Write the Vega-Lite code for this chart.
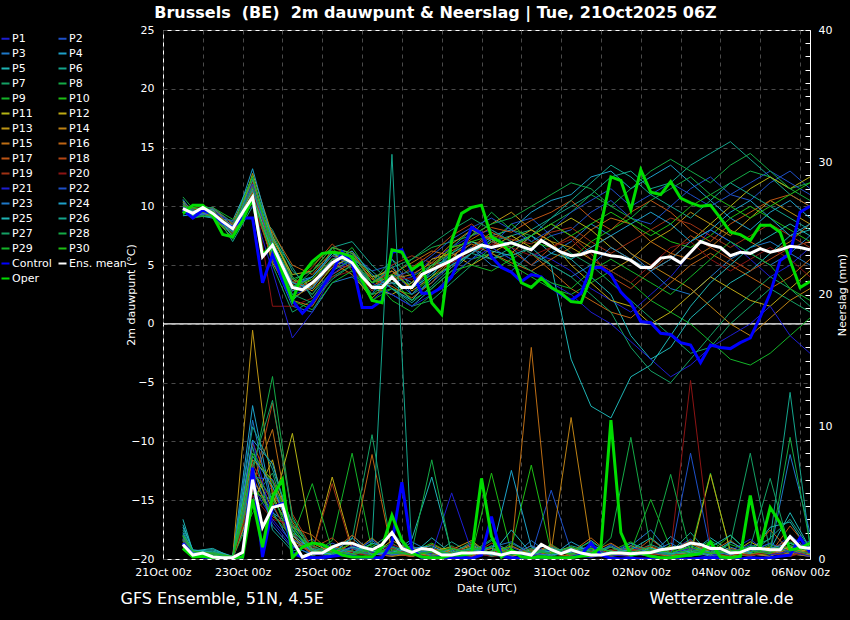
{
"$schema":"https://vega.github.io/schema/vega-lite/v6.json",
"width":647,"height":529,"autosize":"none",
"padding":{"left":163,"top":30,"right":40,"bottom":61},
"background":"black",
"config":{
 "view":{"stroke":"white","strokeWidth":1},
 "font":"DejaVu Sans",
 "axis":{"labelColor":"white","titleColor":"white","labelFont":"DejaVu Sans","titleFont":"DejaVu Sans","labelFontSize":11,"titleFontSize":11,"titleFontWeight":"normal","domain":false,"ticks":false,"gridColor":"#4a4a4a","gridDash":[4,4],"gridWidth":1}
},
"title":{"text":"Brussels\u00a0 (BE)\u00a0 2m dauwpunt & Neerslag | Tue, 21Oct2025 06Z","color":"white","fontSize":16,"fontWeight":"bold","font":"DejaVu Sans","anchor":"middle","frame":"group","dx":-51,"offset":3},
"datasets":{
"dm":[
{"t":"2025-10-21T12:00Z","P1":10.0,"P2":9.6,"P3":10.2,"P4":9.5,"P5":9.9,"P6":10.5,"P7":9.7,"P8":10.8,"P9":9.3,"P10":9.9,"P11":10.1,"P12":9.8,"P13":10.4,"P14":9.5,"P15":10.0,"P16":9.7,"P17":10.3,"P18":9.6,"P19":10.2,"P20":9.4,"P21":10.0,"P22":9.9,"P23":10.6,"P24":9.2,"P25":9.8,"P26":10.3,"P27":9.5,"P28":10.1,"P29":9.7,"P30":10.0},
{"t":"2025-10-21T18:00Z","P1":9.6,"P2":9.2,"P3":9.0,"P4":9.8,"P5":9.3,"P6":9.0,"P7":9.5,"P8":9.8,"P9":9.7,"P10":9.1,"P11":9.5,"P12":9.2,"P13":9.7,"P14":9.9,"P15":9.4,"P16":9.6,"P17":9.3,"P18":9.0,"P19":9.8,"P20":9.5,"P21":9.1,"P22":9.7,"P23":9.4,"P24":9.3,"P25":9.6,"P26":9.2,"P27":9.8,"P28":9.4,"P29":9.0,"P30":9.9},
{"t":"2025-10-22T06:00Z","P1":9.2,"P2":9.8,"P3":9.5,"P4":9.6,"P5":9.0,"P6":9.7,"P7":9.3,"P8":9.0,"P9":9.9,"P10":9.4,"P11":9.6,"P12":9.5,"P13":9.1,"P14":9.7,"P15":9.8,"P16":9.2,"P17":9.4,"P18":9.9,"P19":9.3,"P20":9.6,"P21":9.5,"P22":9.0,"P23":9.8,"P24":9.4,"P25":9.7,"P26":9.1,"P27":9.9,"P28":9.6,"P29":9.3,"P30":9.5},
{"t":"2025-10-22T18:00Z","P1":7.8,"P2":8.5,"P3":8.0,"P4":7.5,"P5":8.8,"P6":7.0,"P7":8.3,"P8":7.6,"P9":8.9,"P10":8.1,"P11":7.9,"P12":8.4,"P13":7.3,"P14":8.2,"P15":8.6,"P16":8.0,"P17":7.7,"P18":8.5,"P19":7.5,"P20":8.2,"P21":8.7,"P22":7.9,"P23":8.3,"P24":8.1,"P25":7.4,"P26":7.8,"P27":8.6,"P28":8.0,"P29":7.2,"P30":8.2},
{"t":"2025-10-23T06:00Z","P1":11.5,"P2":12.0,"P3":10.5,"P4":11.0,"P5":12.5,"P6":10.0,"P7":11.8,"P8":11.2,"P9":10.2,"P10":11.0,"P11":11.5,"P12":10.8,"P13":12.8,"P14":11.3,"P15":12.2,"P16":10.6,"P17":11.7,"P18":10.4,"P19":11.1,"P20":12.0,"P21":10.0,"P22":11.9,"P23":11.4,"P24":13.2,"P25":10.9,"P26":12.3,"P27":10.3,"P28":11.6,"P29":10.7,"P30":12.6},
{"t":"2025-10-23T18:00Z","P1":6.0,"P2":7.5,"P3":5.5,"P4":7.0,"P5":6.5,"P6":8.0,"P7":5.0,"P8":6.8,"P9":7.8,"P10":5.8,"P11":7.2,"P12":6.2,"P13":7.5,"P14":5.2,"P15":6.5,"P16":7.8,"P17":6.0,"P18":5.5,"P19":6.8,"P20":1.5,"P21":4.5,"P22":6.3,"P23":6.6,"P24":7.0,"P25":6.0,"P26":7.3,"P27":6.5,"P28":7.0,"P29":5.8,"P30":6.2},
{"t":"2025-10-24T06:00Z","P1":2.5,"P2":4.0,"P3":1.5,"P4":3.5,"P5":2.0,"P6":4.5,"P7":1.0,"P8":3.0,"P9":4.0,"P10":3.5,"P11":4.2,"P12":2.8,"P13":3.8,"P14":2.2,"P15":2.0,"P16":5.0,"P17":3.0,"P18":3.3,"P19":3.6,"P20":1.5,"P21":-1.2,"P22":3.2,"P23":2.8,"P24":3.5,"P25":3.0,"P26":4.8,"P27":2.5,"P28":3.8,"P29":2.0,"P30":3.2},
{"t":"2025-10-24T18:00Z","P1":3.0,"P2":2.5,"P3":1.0,"P4":4.0,"P5":3.5,"P6":3.0,"P7":2.0,"P8":4.5,"P9":2.5,"P10":5.0,"P11":4.5,"P12":3.8,"P13":2.8,"P14":3.2,"P15":1.5,"P16":4.2,"P17":3.5,"P18":4.8,"P19":3.0,"P20":2.2,"P21":1.0,"P22":4.0,"P23":3.5,"P24":3.0,"P25":4.0,"P26":2.2,"P27":1.8,"P28":4.5,"P29":1.2,"P30":3.8},
{"t":"2025-10-25T06:00Z","P1":5.5,"P2":4.5,"P3":3.5,"P4":6.0,"P5":5.0,"P6":6.5,"P7":4.0,"P8":6.0,"P9":5.0,"P10":6.5,"P11":6.5,"P12":5.8,"P13":4.8,"P14":5.2,"P15":4.2,"P16":6.2,"P17":5.5,"P18":6.8,"P19":5.0,"P20":4.0,"P21":4.2,"P22":5.8,"P23":5.5,"P24":5.2,"P25":6.0,"P26":4.5,"P27":3.8,"P28":6.5,"P29":3.5,"P30":5.5},
{"t":"2025-10-25T18:00Z","P1":4.8,"P2":6.0,"P3":4.0,"P4":5.5,"P5":5.5,"P6":7.0,"P7":5.0,"P8":5.0,"P9":6.5,"P10":4.5,"P11":6.0,"P12":5.5,"P13":5.8,"P14":4.2,"P15":5.2,"P16":5.8,"P17":6.2,"P18":5.2,"P19":4.8,"P20":4.5,"P21":5.5,"P22":5.0,"P23":5.8,"P24":6.2,"P25":5.2,"P26":5.5,"P27":5.0,"P28":6.0,"P29":4.5,"P30":5.5},
{"t":"2025-10-26T06:00Z","P1":2.0,"P2":4.5,"P3":2.5,"P4":3.0,"P5":3.5,"P6":5.0,"P7":2.5,"P8":3.5,"P9":4.0,"P10":2.0,"P11":4.0,"P12":3.2,"P13":3.8,"P14":2.2,"P15":3.2,"P16":3.8,"P17":3.5,"P18":3.0,"P19":2.8,"P20":3.0,"P21":3.5,"P22":3.0,"P23":3.0,"P24":4.2,"P25":3.2,"P26":4.5,"P27":3.5,"P28":3.5,"P29":2.5,"P30":3.5},
{"t":"2025-10-26T18:00Z","P1":3.5,"P2":5.0,"P3":5.5,"P4":2.5,"P5":4.5,"P6":3.5,"P7":3.0,"P8":4.0,"P9":2.0,"P10":3.0,"P11":4.5,"P12":2.5,"P13":4.8,"P14":3.8,"P15":4.2,"P16":3.2,"P17":4.5,"P18":3.5,"P19":5.0,"P20":4.0,"P21":2.5,"P22":4.0,"P23":4.0,"P24":3.0,"P25":3.5,"P26":3.0,"P27":4.8,"P28":5.5,"P29":3.8,"P30":4.2},
{"t":"2025-10-27T06:00Z","P1":4.0,"P2":2.5,"P3":3.0,"P4":1.5,"P5":3.5,"P6":2.0,"P7":1.5,"P8":5.5,"P9":1.0,"P10":2.5,"P11":3.0,"P12":3.5,"P13":2.8,"P14":4.2,"P15":5.2,"P16":2.2,"P17":3.0,"P18":4.8,"P19":5.8,"P20":3.8,"P21":1.5,"P22":4.5,"P23":2.5,"P24":2.0,"P25":3.0,"P26":1.8,"P27":5.5,"P28":4.0,"P29":2.0,"P30":3.2},
{"t":"2025-10-27T18:00Z","P1":5.5,"P2":3.5,"P3":4.5,"P4":3.0,"P5":5.0,"P6":4.0,"P7":2.0,"P8":6.5,"P9":2.5,"P10":4.0,"P11":5.0,"P12":5.5,"P13":4.0,"P14":5.2,"P15":6.2,"P16":3.5,"P17":4.8,"P18":6.0,"P19":5.2,"P20":4.5,"P21":2.5,"P22":5.8,"P23":4.5,"P24":3.8,"P25":4.2,"P26":3.2,"P27":6.8,"P28":5.0,"P29":3.0,"P30":4.8},
{"t":"2025-10-28T06:00Z","P1":6.5,"P2":5.0,"P3":6.0,"P4":4.5,"P5":5.5,"P6":6.5,"P7":3.5,"P8":7.0,"P9":4.0,"P10":5.0,"P11":6.5,"P12":6.0,"P13":5.5,"P14":6.8,"P15":5.8,"P16":5.5,"P17":6.2,"P18":7.5,"P19":4.8,"P20":5.2,"P21":4.2,"P22":7.2,"P23":5.5,"P24":5.0,"P25":6.0,"P26":4.8,"P27":8.0,"P28":6.0,"P29":4.5,"P30":6.5},
{"t":"2025-10-28T18:00Z","P1":7.5,"P2":7.0,"P3":5.5,"P4":6.0,"P5":6.5,"P6":8.0,"P7":5.0,"P8":7.5,"P9":5.5,"P10":6.0,"P11":7.0,"P12":5.0,"P13":7.5,"P14":8.0,"P15":6.8,"P16":6.5,"P17":7.2,"P18":8.5,"P19":6.5,"P20":6.0,"P21":5.5,"P22":8.2,"P23":6.5,"P24":6.0,"P25":7.0,"P26":6.0,"P27":9.0,"P28":7.5,"P29":5.0,"P30":7.0},
{"t":"2025-10-29T06:00Z","P1":8.0,"P2":6.5,"P3":7.0,"P4":7.5,"P5":5.5,"P6":7.0,"P7":6.5,"P8":9.5,"P9":6.0,"P10":7.0,"P11":6.5,"P12":6.0,"P13":8.5,"P14":7.2,"P15":6.0,"P16":7.8,"P17":8.2,"P18":7.0,"P19":7.5,"P20":6.8,"P21":6.5,"P22":9.0,"P23":5.0,"P24":7.2,"P25":6.2,"P26":5.5,"P27":8.0,"P28":8.5,"P29":4.5,"P30":7.5},
{"t":"2025-10-29T18:00Z","P1":7.0,"P2":8.5,"P3":6.5,"P4":8.0,"P5":6.0,"P6":7.5,"P7":5.5,"P8":8.0,"P9":5.0,"P10":8.5,"P11":7.5,"P12":7.0,"P13":9.5,"P14":6.0,"P15":5.2,"P16":7.0,"P17":7.8,"P18":6.2,"P19":7.2,"P20":6.5,"P21":5.5,"P22":8.0,"P23":4.5,"P24":6.8,"P25":5.8,"P26":6.5,"P27":7.0,"P28":9.0,"P29":5.5,"P30":6.5},
{"t":"2025-10-30T06:00Z","P1":6.0,"P2":9.0,"P3":5.0,"P4":9.5,"P5":7.5,"P6":8.0,"P7":6.5,"P8":7.5,"P9":4.0,"P10":7.0,"P11":6.5,"P12":8.0,"P13":8.0,"P14":7.5,"P15":4.5,"P16":6.0,"P17":8.8,"P18":5.0,"P19":6.8,"P20":5.8,"P21":4.5,"P22":7.0,"P23":6.0,"P24":7.5,"P25":6.5,"P26":7.5,"P27":6.0,"P28":10.0,"P29":4.5,"P30":7.5},
{"t":"2025-10-30T18:00Z","P1":5.5,"P2":7.5,"P3":6.0,"P4":10.5,"P5":6.0,"P6":9.0,"P7":7.5,"P8":8.5,"P9":3.0,"P10":6.5,"P11":8.0,"P12":7.0,"P13":7.0,"P14":8.5,"P15":5.5,"P16":4.5,"P17":9.5,"P18":6.5,"P19":7.8,"P20":6.5,"P21":3.5,"P22":8.0,"P23":5.0,"P24":6.5,"P25":5.0,"P26":9.0,"P27":5.0,"P28":11.0,"P29":3.5,"P30":8.5},
{"t":"2025-10-31T06:00Z","P1":4.5,"P2":8.0,"P3":7.0,"P4":11.0,"P5":5.5,"P6":10.0,"P7":6.0,"P8":9.5,"P9":2.5,"P10":5.5,"P11":9.0,"P12":5.0,"P13":6.5,"P14":7.5,"P15":6.5,"P16":3.0,"P17":10.5,"P18":7.5,"P19":8.2,"P20":7.2,"P21":2.5,"P22":9.5,"P23":4.0,"P24":5.5,"P25":-3.0,"P26":10.5,"P27":4.0,"P28":12.0,"P29":3.0,"P30":7.5},
{"t":"2025-10-31T18:00Z","P1":3.0,"P2":9.5,"P3":8.5,"P4":12.5,"P5":4.0,"P6":11.0,"P7":5.0,"P8":11.0,"P9":3.5,"P10":7.0,"P11":8.0,"P12":3.5,"P13":5.5,"P14":6.5,"P15":8.0,"P16":2.0,"P17":9.0,"P18":6.0,"P19":7.0,"P20":5.5,"P21":1.0,"P22":10.5,"P23":5.0,"P24":6.5,"P25":-7.0,"P26":12.0,"P27":2.5,"P28":11.5,"P29":4.5,"P30":8.5},
{"t":"2025-11-01T06:00Z","P1":2.0,"P2":10.5,"P3":7.5,"P4":13.0,"P5":2.5,"P6":12.5,"P7":3.5,"P8":10.0,"P9":4.5,"P10":8.0,"P11":6.5,"P12":2.0,"P13":4.5,"P14":7.5,"P15":9.0,"P16":1.0,"P17":8.0,"P18":4.0,"P19":6.0,"P20":4.5,"P21":0.0,"P22":11.5,"P23":6.5,"P24":7.5,"P25":-8.0,"P26":13.5,"P27":1.0,"P28":10.0,"P29":5.5,"P30":9.5},
{"t":"2025-11-01T18:00Z","P1":1.0,"P2":9.0,"P3":6.0,"P4":11.5,"P5":-1.0,"P6":13.0,"P7":2.0,"P8":9.0,"P9":3.5,"P10":9.0,"P11":5.5,"P12":1.5,"P13":5.5,"P14":6.0,"P15":8.5,"P16":0.5,"P17":9.5,"P18":3.0,"P19":7.0,"P20":3.5,"P21":-1.5,"P22":10.0,"P23":5.5,"P24":8.5,"P25":-4.5,"P26":12.5,"P27":-2.0,"P28":11.5,"P29":4.5,"P30":8.5},
{"t":"2025-11-02T06:00Z","P1":2.5,"P2":8.5,"P3":4.5,"P4":12.5,"P5":-3.0,"P6":11.5,"P7":0.5,"P8":10.5,"P9":2.0,"P10":8.0,"P11":4.5,"P12":0.0,"P13":7.0,"P14":5.0,"P15":7.0,"P16":2.0,"P17":10.5,"P18":4.5,"P19":8.0,"P20":5.0,"P21":-3.0,"P22":11.0,"P23":4.5,"P24":9.5,"P25":-3.5,"P26":11.0,"P27":-4.0,"P28":13.0,"P29":3.5,"P30":7.5},
{"t":"2025-11-02T18:00Z","P1":4.0,"P2":10.0,"P3":3.0,"P4":13.5,"P5":-2.0,"P6":12.0,"P7":-1.0,"P8":11.5,"P9":1.0,"P10":7.0,"P11":5.5,"P12":1.0,"P13":8.0,"P14":4.0,"P15":6.0,"P16":3.5,"P17":9.5,"P18":6.0,"P19":9.0,"P20":6.5,"P21":-4.5,"P22":12.0,"P23":5.5,"P24":8.5,"P25":-1.0,"P26":10.0,"P27":-5.0,"P28":14.0,"P29":2.5,"P30":8.5},
{"t":"2025-11-03T06:00Z","P1":6.0,"P2":11.5,"P3":2.5,"P4":12.0,"P5":0.5,"P6":13.5,"P7":-2.5,"P8":12.5,"P9":0.0,"P10":6.5,"P11":7.0,"P12":2.5,"P13":9.5,"P14":3.0,"P15":5.5,"P16":5.0,"P17":8.0,"P18":7.5,"P19":8.5,"P20":7.0,"P21":-3.5,"P22":11.0,"P23":7.0,"P24":7.0,"P25":1.5,"P26":9.0,"P27":-3.0,"P28":13.0,"P29":4.0,"P30":10.0},
{"t":"2025-11-03T18:00Z","P1":8.0,"P2":12.5,"P3":4.0,"P4":10.5,"P5":2.0,"P6":14.5,"P7":-2.0,"P8":11.0,"P9":-1.5,"P10":7.5,"P11":8.5,"P12":4.0,"P13":8.5,"P14":1.5,"P15":6.5,"P16":6.0,"P17":7.0,"P18":6.5,"P19":7.5,"P20":5.5,"P21":-2.0,"P22":10.0,"P23":8.0,"P24":8.0,"P25":3.5,"P26":10.5,"P27":-1.0,"P28":12.0,"P29":5.5,"P30":11.0},
{"t":"2025-11-04T06:00Z","P1":7.0,"P2":11.0,"P3":5.5,"P4":9.0,"P5":3.5,"P6":15.5,"P7":0.0,"P8":12.0,"P9":-3.0,"P10":9.0,"P11":10.0,"P12":3.0,"P13":7.5,"P14":0.0,"P15":8.0,"P16":5.0,"P17":8.5,"P18":5.5,"P19":6.5,"P20":4.5,"P21":-1.0,"P22":11.0,"P23":7.0,"P24":9.5,"P25":5.0,"P26":12.0,"P27":1.0,"P28":13.5,"P29":7.0,"P30":10.0},
{"t":"2025-11-04T18:00Z","P1":5.5,"P2":10.5,"P3":6.5,"P4":8.0,"P5":4.5,"P6":14.0,"P7":1.5,"P8":13.0,"P9":-3.5,"P10":10.0,"P11":11.5,"P12":2.0,"P13":9.0,"P14":-1.0,"P15":7.0,"P16":4.0,"P17":9.5,"P18":4.5,"P19":7.5,"P20":5.5,"P21":0.0,"P22":12.0,"P23":6.0,"P24":10.5,"P25":6.5,"P26":11.0,"P27":2.5,"P28":14.5,"P29":6.0,"P30":9.0},
{"t":"2025-11-05T06:00Z","P1":4.0,"P2":12.0,"P3":7.0,"P4":9.5,"P5":6.0,"P6":12.5,"P7":3.0,"P8":12.5,"P9":-2.5,"P10":9.0,"P11":12.5,"P12":1.5,"P13":10.5,"P14":0.5,"P15":6.0,"P16":3.0,"P17":10.5,"P18":5.5,"P19":8.5,"P20":6.5,"P21":1.5,"P22":13.0,"P23":5.0,"P24":9.0,"P25":7.5,"P26":10.0,"P27":4.0,"P28":13.0,"P29":5.0,"P30":10.0},
{"t":"2025-11-05T18:00Z","P1":5.0,"P2":13.0,"P3":6.0,"P4":10.5,"P5":7.5,"P6":11.0,"P7":2.0,"P8":11.5,"P9":-1.0,"P10":8.0,"P11":11.5,"P12":3.0,"P13":9.5,"P14":2.0,"P15":7.0,"P16":4.0,"P17":11.0,"P18":6.5,"P19":7.5,"P20":5.5,"P21":-1.0,"P22":12.0,"P23":6.0,"P24":7.5,"P25":8.5,"P26":9.0,"P27":3.0,"P28":11.5,"P29":3.0,"P30":11.0},
{"t":"2025-11-06T06:00Z","P1":6.5,"P2":11.5,"P3":5.0,"P4":9.0,"P5":8.0,"P6":10.0,"P7":1.0,"P8":12.0,"P9":0.5,"P10":7.0,"P11":12.5,"P12":4.5,"P13":8.5,"P14":3.0,"P15":8.5,"P16":5.5,"P17":10.0,"P18":7.0,"P19":6.5,"P20":4.0,"P21":-2.5,"P22":11.0,"P23":7.5,"P24":8.5,"P25":7.5,"P26":8.0,"P27":1.5,"P28":10.5,"P29":2.0,"P30":12.0}
],
"pm":[
{"t":"2025-10-21T12:00Z","P1":1.2,"P2":1.0,"P3":1.5,"P4":2.0,"P5":3.0,"P6":1.8,"P7":0.9,"P8":1.4,"P9":1.1,"P10":1.6,"P11":1.3,"P12":0.8,"P13":1.7,"P14":1.0,"P15":1.2,"P16":0.9,"P17":1.5,"P18":1.1,"P19":1.3,"P20":0.7,"P21":1.4,"P22":1.6,"P23":1.9,"P24":2.4,"P25":2.6,"P26":2.2,"P27":1.7,"P28":1.4,"P29":1.2,"P30":1.8},
{"t":"2025-10-21T18:00Z","P1":0.3,"P2":0.4,"P3":0.2,"P4":0.5,"P5":0.6,"P6":0.4,"P7":0.2,"P8":0.5,"P9":0.3,"P10":0.4,"P11":0.3,"P12":0.2,"P13":0.6,"P14":0.3,"P15":0.4,"P16":0.2,"P17":0.5,"P18":0.3,"P19":0.4,"P20":0.2,"P21":0.3,"P22":0.5,"P23":0.4,"P24":0.7,"P25":0.6,"P26":0.5,"P27":0.4,"P28":0.3,"P29":0.4,"P30":0.6},
{"t":"2025-10-22T06:00Z","P1":0.2,"P2":0.3,"P3":0.1,"P4":0.6,"P5":0.8,"P6":0.3,"P7":0.2,"P8":0.4,"P9":0.5,"P10":0.2,"P11":0.3,"P12":0.4,"P13":0.2,"P14":0.2,"P15":0.5,"P16":0.3,"P17":0.2,"P18":0.4,"P19":0.2,"P20":0.3,"P21":0.2,"P22":0.3,"P23":0.4,"P24":0.5,"P25":0.7,"P26":0.6,"P27":0.3,"P28":0.5,"P29":0.3,"P30":0.4},
{"t":"2025-10-22T18:00Z","P1":0.1,"P2":0,"P3":0.1,"P4":0.2,"P5":0.1,"P6":0,"P7":0.1,"P8":0.2,"P9":0.1,"P10":0,"P11":0.2,"P12":0.1,"P13":0.1,"P14":0,"P15":0.2,"P16":0.1,"P17":0,"P18":0.1,"P19":0.1,"P20":0,"P21":0.1,"P22":0.2,"P23":0.1,"P24":0.1,"P25":0.2,"P26":0.1,"P27":0,"P28":0.1,"P29":0.1,"P30":0.2},
{"t":"2025-10-23T06:00Z","P1":5.5,"P2":4.0,"P3":7.0,"P4":11.6,"P5":6.0,"P6":8.5,"P7":4.5,"P8":6.5,"P9":3.5,"P10":5.0,"P11":6.8,"P12":4.2,"P13":17.3,"P14":7.5,"P15":5.8,"P16":6.2,"P17":8.8,"P18":5.2,"P19":7.2,"P20":4.8,"P21":9.0,"P22":6.2,"P23":10.5,"P24":9.0,"P25":7.8,"P26":10.0,"P27":7.0,"P28":6.6,"P29":5.6,"P30":8.0},
{"t":"2025-10-23T18:00Z","P1":3.0,"P2":5.5,"P3":2.5,"P4":4.0,"P5":3.5,"P6":2.2,"P7":6.5,"P8":13.8,"P9":5.0,"P10":4.5,"P11":3.8,"P12":7.5,"P13":4.8,"P14":6.0,"P15":9.8,"P16":3.2,"P17":5.2,"P18":11.8,"P19":4.2,"P20":3.0,"P21":2.8,"P22":6.0,"P23":3.6,"P24":7.2,"P25":5.5,"P26":6.8,"P27":12.0,"P28":4.6,"P29":3.4,"P30":5.8},
{"t":"2025-10-24T06:00Z","P1":1.2,"P2":2.0,"P3":0.8,"P4":1.5,"P5":2.5,"P6":0.6,"P7":1.8,"P8":3.0,"P9":1.0,"P10":2.2,"P11":9.5,"P12":1.4,"P13":1.8,"P14":2.8,"P15":1.6,"P16":2.4,"P17":2.0,"P18":3.4,"P19":1.2,"P20":2.6,"P21":0.9,"P22":1.5,"P23":1.0,"P24":2.2,"P25":1.8,"P26":2.6,"P27":3.2,"P28":2.0,"P29":1.6,"P30":2.4},
{"t":"2025-10-24T18:00Z","P1":0.5,"P2":0.3,"P3":1.5,"P4":0.6,"P5":0.4,"P6":1.0,"P7":0.2,"P8":0.8,"P9":0.3,"P10":0.6,"P11":1.2,"P12":0.5,"P13":0.3,"P14":0.7,"P15":0.4,"P16":1.8,"P17":0.3,"P18":0.8,"P19":0.5,"P20":0.9,"P21":0.4,"P22":0.6,"P23":0.3,"P24":0.5,"P25":0.7,"P26":0.8,"P27":0.4,"P28":1.0,"P29":5.7,"P30":0.6},
{"t":"2025-10-25T06:00Z","P1":0.8,"P2":1.2,"P3":0.3,"P4":0.2,"P5":0.6,"P6":0.4,"P7":0.9,"P8":0.3,"P9":1.4,"P10":0.2,"P11":0.5,"P12":6.2,"P13":0.7,"P14":0.3,"P15":1.0,"P16":0.4,"P17":0.6,"P18":1.6,"P19":5.7,"P20":0.3,"P21":0.2,"P22":0.4,"P23":0.9,"P24":0.4,"P25":0.3,"P26":0.5,"P27":0.8,"P28":0.4,"P29":0.6,"P30":0.5},
{"t":"2025-10-25T18:00Z","P1":0.3,"P2":0.6,"P3":0.9,"P4":1.8,"P5":0.2,"P6":0.3,"P7":1.5,"P8":0.6,"P9":8.0,"P10":0.4,"P11":0.3,"P12":0.8,"P13":0.4,"P14":1.2,"P15":0.5,"P16":0.6,"P17":1.8,"P18":0.3,"P19":0.6,"P20":0.5,"P21":1.0,"P22":0.8,"P23":0.4,"P24":1.6,"P25":0.9,"P26":0.4,"P27":0.6,"P28":0.3,"P29":0.4,"P30":1.2},
{"t":"2025-10-26T06:00Z","P1":1.5,"P2":0.2,"P3":0.4,"P4":0.5,"P5":1.2,"P6":0.9,"P7":9.4,"P8":0.4,"P9":0.6,"P10":1.1,"P11":0.8,"P12":0.3,"P13":1.6,"P14":0.5,"P15":0.2,"P16":7.9,"P17":0.4,"P18":0.6,"P19":0.3,"P20":0.2,"P21":0.5,"P22":0.3,"P23":1.4,"P24":0.3,"P25":0.6,"P26":1.2,"P27":0.3,"P28":0.7,"P29":0.8,"P30":0.4},
{"t":"2025-10-26T18:00Z","P1":0.5,"P2":1.0,"P3":0.2,"P4":0.3,"P5":0.8,"P6":2.0,"P7":0.6,"P8":1.2,"P9":0.2,"P10":0.3,"P11":0.4,"P12":1.4,"P13":0.2,"P14":0.3,"P15":0.9,"P16":0.5,"P17":0.2,"P18":0.4,"P19":0.8,"P20":1.1,"P21":0.3,"P22":0.6,"P23":0.3,"P24":0.5,"P25":0.4,"P26":30.6,"P27":0.9,"P28":0.4,"P29":0.5,"P30":0.7},
{"t":"2025-10-27T06:00Z","P1":0.2,"P2":0.4,"P3":1.3,"P4":0.9,"P5":0.3,"P6":0.5,"P7":0.2,"P8":0.3,"P9":0.8,"P10":0.5,"P11":0.2,"P12":0.6,"P13":0.4,"P14":0.8,"P15":0.3,"P16":0.2,"P17":0.9,"P18":0.2,"P19":0.4,"P20":0.6,"P21":0.7,"P22":1.0,"P23":0.5,"P24":0.8,"P25":1.5,"P26":0.6,"P27":0.5,"P28":0.6,"P29":0.3,"P30":0.3},
{"t":"2025-10-27T18:00Z","P1":0.8,"P2":0.1,"P3":0.5,"P4":0.2,"P5":1.6,"P6":0.2,"P7":0.5,"P8":0.9,"P9":0.3,"P10":1.2,"P11":0.6,"P12":0.2,"P13":0.3,"P14":0.4,"P15":1.1,"P16":0.7,"P17":0.5,"P18":0.8,"P19":0.2,"P20":0.3,"P21":0.4,"P22":0.2,"P23":0.6,"P24":1.0,"P25":6.2,"P26":0.3,"P27":0.7,"P28":7.5,"P29":0.6,"P30":0.5},
{"t":"2025-10-28T06:00Z","P1":0.3,"P2":0.8,"P3":0.2,"P4":0.6,"P5":0.4,"P6":1.3,"P7":0.3,"P8":0.2,"P9":1.0,"P10":0.4,"P11":0.9,"P12":0.5,"P13":0.7,"P14":0.2,"P15":0.4,"P16":0.3,"P17":0.2,"P18":0.4,"P19":0.5,"P20":0.9,"P21":5.0,"P22":0.4,"P23":0.3,"P24":0.3,"P25":0.5,"P26":0.8,"P27":0.4,"P28":0.3,"P29":0.4,"P30":0.8},
{"t":"2025-10-28T18:00Z","P1":0.1,"P2":0.5,"P3":0.7,"P4":1.1,"P5":0.2,"P6":0.4,"P7":0.8,"P8":0.5,"P9":0.2,"P10":0.3,"P11":0.2,"P12":1.0,"P13":1.4,"P14":0.6,"P15":0.3,"P16":0.9,"P17":1.2,"P18":0.2,"P19":0.3,"P20":0.5,"P21":0.6,"P22":0.8,"P23":0.4,"P24":0.5,"P25":0.8,"P26":0.4,"P27":1.3,"P28":0.9,"P29":0.7,"P30":0.4},
{"t":"2025-10-29T06:00Z","P1":0.6,"P2":0.2,"P3":0.3,"P4":0.3,"P5":1.0,"P6":0.8,"P7":0.2,"P8":1.5,"P9":0.4,"P10":6.5,"P11":0.5,"P12":0.3,"P13":0.2,"P14":0.4,"P15":0.8,"P16":0.2,"P17":0.4,"P18":0.6,"P19":1.2,"P20":0.2,"P21":0.3,"P22":0.5,"P23":0.9,"P24":0.4,"P25":0.3,"P26":1.4,"P27":0.2,"P28":0.5,"P29":0.9,"P30":0.6},
{"t":"2025-10-29T18:00Z","P1":0.2,"P2":0.9,"P3":0.1,"P4":0.4,"P5":0.6,"P6":0.2,"P7":1.2,"P8":0.4,"P9":0.7,"P10":0.5,"P11":0.3,"P12":0.2,"P13":0.6,"P14":1.0,"P15":0.5,"P16":0.4,"P17":0.3,"P18":0.3,"P19":0.6,"P20":0.4,"P21":0.5,"P22":0.3,"P23":1.3,"P24":6.7,"P25":2.2,"P26":0.5,"P27":0.6,"P28":0.3,"P29":0.3,"P30":0.9},
{"t":"2025-10-30T06:00Z","P1":0.4,"P2":0.3,"P3":1.4,"P4":0.7,"P5":0.2,"P6":0.5,"P7":0.4,"P8":0.2,"P9":0.3,"P10":0.2,"P11":1.0,"P12":0.6,"P13":0.3,"P14":0.3,"P15":16.0,"P16":0.6,"P17":0.7,"P18":0.5,"P19":0.3,"P20":0.8,"P21":0.2,"P22":1.0,"P23":0.4,"P24":0.9,"P25":0.4,"P26":0.3,"P27":0.4,"P28":0.8,"P29":0.6,"P30":7.1},
{"t":"2025-10-30T18:00Z","P1":1.0,"P2":5.2,"P3":0.3,"P4":0.2,"P5":0.8,"P6":0.3,"P7":0.2,"P8":0.7,"P9":1.1,"P10":0.4,"P11":0.4,"P12":0.8,"P13":0.5,"P14":0.6,"P15":0.6,"P16":0.3,"P17":0.4,"P18":1.0,"P19":0.4,"P20":0.3,"P21":0.7,"P22":0.4,"P23":0.3,"P24":0.3,"P25":0.6,"P26":0.9,"P27":0.8,"P28":0.4,"P29":0.4,"P30":0.5},
{"t":"2025-10-31T06:00Z","P1":0.3,"P2":0.6,"P3":0.8,"P4":1.3,"P5":0.4,"P6":1.0,"P7":0.6,"P8":0.3,"P9":0.2,"P10":0.9,"P11":0.2,"P12":0.4,"P13":0.9,"P14":10.7,"P15":0.3,"P16":0.5,"P17":0.2,"P18":0.3,"P19":0.8,"P20":0.5,"P21":0.4,"P22":0.6,"P23":0.6,"P24":0.5,"P25":0.8,"P26":0.4,"P27":0.3,"P28":0.6,"P29":0.9,"P30":0.4},
{"t":"2025-10-31T18:00Z","P1":0.1,"P2":0.2,"P3":0.2,"P4":0.5,"P5":1.4,"P6":0.6,"P7":0.3,"P8":0.2,"P9":0.5,"P10":0.2,"P11":0.8,"P12":0.3,"P13":0.3,"P14":0.8,"P15":0.5,"P16":1.6,"P17":0.6,"P18":0.2,"P19":0.3,"P20":0.2,"P21":0.9,"P22":0.3,"P23":0.4,"P24":1.0,"P25":0.3,"P26":0.7,"P27":0.5,"P28":1.3,"P29":0.5,"P30":0.8},
{"t":"2025-11-01T06:00Z","P1":0.5,"P2":1.1,"P3":0.4,"P4":0.2,"P5":0.3,"P6":0.2,"P7":0.9,"P8":1.6,"P9":0.3,"P10":0.6,"P11":0.3,"P12":0.7,"P13":0.2,"P14":0.4,"P15":1.2,"P16":0.3,"P17":0.9,"P18":0.5,"P19":0.2,"P20":0.7,"P21":0.3,"P22":0.4,"P23":1.0,"P24":0.6,"P25":0.5,"P26":0.3,"P27":0.9,"P28":0.4,"P29":0.3,"P30":0.6},
{"t":"2025-11-01T18:00Z","P1":1.2,"P2":0.4,"P3":1.0,"P4":0.6,"P5":0.5,"P6":0.4,"P7":0.2,"P8":9.2,"P9":0.8,"P10":1.3,"P11":0.5,"P12":0.2,"P13":1.0,"P14":0.2,"P15":0.3,"P16":0.7,"P17":0.3,"P18":0.8,"P19":0.6,"P20":0.4,"P21":0.2,"P22":0.9,"P23":0.3,"P24":0.3,"P25":0.7,"P26":1.2,"P27":0.4,"P28":0.5,"P29":0.6,"P30":0.3},
{"t":"2025-11-02T06:00Z","P1":0.3,"P2":0.2,"P3":2.2,"P4":0.3,"P5":0.9,"P6":1.1,"P7":0.5,"P8":0.8,"P9":0.4,"P10":0.3,"P11":0.2,"P12":0.9,"P13":0.5,"P14":0.7,"P15":0.6,"P16":0.4,"P17":1.5,"P18":0.3,"P19":1.0,"P20":0.3,"P21":0.6,"P22":0.5,"P23":0.5,"P24":0.8,"P25":1.6,"P26":0.6,"P27":0.6,"P28":0.9,"P29":4.5,"P30":0.7},
{"t":"2025-11-02T18:00Z","P1":0.8,"P2":0.6,"P3":0.4,"P4":1.7,"P5":0.2,"P6":0.5,"P7":0.3,"P8":0.3,"P9":1.0,"P10":0.7,"P11":1.0,"P12":0.4,"P13":0.3,"P14":0.3,"P15":0.2,"P16":0.2,"P17":0.4,"P18":0.6,"P19":0.4,"P20":0.6,"P21":0.4,"P22":0.3,"P23":1.2,"P24":0.4,"P25":0.4,"P26":0.4,"P27":0.3,"P28":6.4,"P29":0.8,"P30":0.5},
{"t":"2025-11-03T06:00Z","P1":0.4,"P2":1.5,"P3":0.2,"P4":0.6,"P5":0.4,"P6":2.0,"P7":0.8,"P8":0.5,"P9":0.6,"P10":0.2,"P11":0.4,"P12":0.3,"P13":1.2,"P14":0.5,"P15":0.8,"P16":0.6,"P17":0.2,"P18":1.4,"P19":0.3,"P20":13.5,"P21":0.8,"P22":8.0,"P23":0.4,"P24":0.6,"P25":0.5,"P26":1.0,"P27":0.7,"P28":0.5,"P29":0.4,"P30":0.9},
{"t":"2025-11-03T18:00Z","P1":0.1,"P2":0.3,"P3":0.9,"P4":0.2,"P5":1.6,"P6":0.3,"P7":0.4,"P8":1.4,"P9":6.5,"P10":0.5,"P11":0.7,"P12":6.4,"P13":0.4,"P14":1.1,"P15":0.5,"P16":0.3,"P17":0.8,"P18":0.3,"P19":0.5,"P20":0.9,"P21":0.3,"P22":0.7,"P23":0.6,"P24":0.3,"P25":0.9,"P26":0.5,"P27":0.4,"P28":0.8,"P29":0.5,"P30":0.4},
{"t":"2025-11-04T06:00Z","P1":0.6,"P2":0.1,"P3":0.3,"P4":0.9,"P5":0.6,"P6":0.6,"P7":1.2,"P8":0.4,"P9":0.5,"P10":1.8,"P11":0.3,"P12":0.6,"P13":0.2,"P14":0.3,"P15":1.4,"P16":0.8,"P17":0.3,"P18":0.5,"P19":0.2,"P20":0.4,"P21":0.5,"P22":0.4,"P23":0.3,"P24":1.3,"P25":1.8,"P26":0.7,"P27":0.5,"P28":0.4,"P29":1.1,"P30":0.6},
{"t":"2025-11-04T18:00Z","P1":1.5,"P2":0.7,"P3":0.5,"P4":0.4,"P5":0.2,"P6":0.9,"P7":8.0,"P8":0.2,"P9":0.3,"P10":0.4,"P11":1.3,"P12":0.3,"P13":0.6,"P14":0.4,"P15":0.3,"P16":0.5,"P17":0.6,"P18":0.2,"P19":0.9,"P20":0.3,"P21":1.1,"P22":0.6,"P23":0.8,"P24":0.5,"P25":0.4,"P26":0.4,"P27":0.9,"P28":1.0,"P29":0.6,"P30":0.8},
{"t":"2025-11-05T06:00Z","P1":0.3,"P2":0.5,"P3":1.2,"P4":0.2,"P5":0.7,"P6":1.5,"P7":0.5,"P8":0.9,"P9":1.1,"P10":0.6,"P11":0.5,"P12":0.4,"P13":0.9,"P14":0.2,"P15":0.6,"P16":2.2,"P17":0.4,"P18":0.7,"P19":0.4,"P20":0.5,"P21":0.3,"P22":1.2,"P23":0.5,"P24":0.8,"P25":2.4,"P26":1.6,"P27":6.1,"P28":0.7,"P29":0.4,"P30":0.5},
{"t":"2025-11-05T18:00Z","P1":0.9,"P2":1.8,"P3":0.4,"P4":1.0,"P5":3.5,"P6":12.6,"P7":0.3,"P8":0.6,"P9":0.4,"P10":1.2,"P11":0.2,"P12":0.9,"P13":0.3,"P14":0.8,"P15":0.4,"P16":0.6,"P17":2.5,"P18":1.5,"P19":0.3,"P20":0.2,"P21":0.6,"P22":0.5,"P23":7.9,"P24":1.2,"P25":2.8,"P26":3.0,"P27":0.7,"P28":9.2,"P29":1.3,"P30":1.0},
{"t":"2025-11-06T06:00Z","P1":0.4,"P2":0.6,"P3":0.2,"P4":0.5,"P5":0.8,"P6":1.0,"P7":0.6,"P8":0.3,"P9":0.9,"P10":0.3,"P11":0.8,"P12":0.5,"P13":1.1,"P14":0.4,"P15":0.2,"P16":0.3,"P17":0.7,"P18":0.4,"P19":0.6,"P20":0.6,"P21":0.2,"P22":1.4,"P23":2.0,"P24":0.6,"P25":0.5,"P26":0.8,"P27":0.4,"P28":1.2,"P29":0.5,"P30":0.7}
],
"dc":[
{"t":"2025-10-21T12:00Z","Control":9.7,"Mean":9.8,"Oper":9.4},
{"t":"2025-10-21T18:00Z","Control":9.0,"Mean":9.4,"Oper":10.1},
{"t":"2025-10-22T00:00Z","Control":9.7,"Mean":9.9,"Oper":10.1},
{"t":"2025-10-22T06:00Z","Control":9.3,"Mean":9.4,"Oper":9.2},
{"t":"2025-10-22T12:00Z","Control":8.6,"Mean":8.7,"Oper":7.6},
{"t":"2025-10-22T18:00Z","Control":8.2,"Mean":8.1,"Oper":7.4},
{"t":"2025-10-23T00:00Z","Control":9.0,"Mean":9.5,"Oper":8.8},
{"t":"2025-10-23T06:00Z","Control":9.0,"Mean":10.8,"Oper":10.7},
{"t":"2025-10-23T12:00Z","Control":3.5,"Mean":5.7,"Oper":5.9},
{"t":"2025-10-23T18:00Z","Control":5.9,"Mean":6.7,"Oper":6.7},
{"t":"2025-10-24T00:00Z","Control":3.7,"Mean":4.9,"Oper":4.3},
{"t":"2025-10-24T06:00Z","Control":2.0,"Mean":3.1,"Oper":2.0},
{"t":"2025-10-24T12:00Z","Control":0.9,"Mean":2.9,"Oper":4.2},
{"t":"2025-10-24T18:00Z","Control":1.8,"Mean":3.5,"Oper":5.3},
{"t":"2025-10-25T00:00Z","Control":3.1,"Mean":4.3,"Oper":6.0},
{"t":"2025-10-25T06:00Z","Control":4.4,"Mean":5.2,"Oper":6.1},
{"t":"2025-10-25T12:00Z","Control":6.1,"Mean":5.7,"Oper":6.0},
{"t":"2025-10-25T18:00Z","Control":5.2,"Mean":5.2,"Oper":5.7},
{"t":"2025-10-26T00:00Z","Control":1.4,"Mean":4.0,"Oper":3.7},
{"t":"2025-10-26T06:00Z","Control":1.4,"Mean":3.1,"Oper":2.0},
{"t":"2025-10-26T12:00Z","Control":2.0,"Mean":3.1,"Oper":1.8},
{"t":"2025-10-26T18:00Z","Control":6.1,"Mean":4.0,"Oper":6.3},
{"t":"2025-10-27T00:00Z","Control":6.3,"Mean":3.1,"Oper":6.1},
{"t":"2025-10-27T06:00Z","Control":4.4,"Mean":3.1,"Oper":4.6},
{"t":"2025-10-27T12:00Z","Control":2.6,"Mean":4.2,"Oper":5.2},
{"t":"2025-10-27T18:00Z","Control":2.6,"Mean":4.6,"Oper":1.8},
{"t":"2025-10-28T00:00Z","Control":3.1,"Mean":5.0,"Oper":0.8},
{"t":"2025-10-28T06:00Z","Control":4.0,"Mean":5.4,"Oper":7.1},
{"t":"2025-10-28T12:00Z","Control":6.0,"Mean":5.9,"Oper":9.4},
{"t":"2025-10-28T18:00Z","Control":8.2,"Mean":6.3,"Oper":9.9},
{"t":"2025-10-29T00:00Z","Control":7.7,"Mean":6.7,"Oper":10.1},
{"t":"2025-10-29T06:00Z","Control":5.7,"Mean":6.5,"Oper":7.4},
{"t":"2025-10-29T12:00Z","Control":4.8,"Mean":6.7,"Oper":6.9},
{"t":"2025-10-29T18:00Z","Control":4.4,"Mean":6.9,"Oper":6.0},
{"t":"2025-10-30T00:00Z","Control":3.6,"Mean":6.6,"Oper":3.5},
{"t":"2025-10-30T06:00Z","Control":4.2,"Mean":6.3,"Oper":3.1},
{"t":"2025-10-30T12:00Z","Control":4.0,"Mean":7.1,"Oper":3.9},
{"t":"2025-10-30T18:00Z","Control":3.1,"Mean":6.6,"Oper":3.1},
{"t":"2025-10-31T00:00Z","Control":2.5,"Mean":6.1,"Oper":2.6},
{"t":"2025-10-31T06:00Z","Control":2.0,"Mean":5.8,"Oper":1.9},
{"t":"2025-10-31T12:00Z","Control":2.6,"Mean":5.9,"Oper":1.8},
{"t":"2025-10-31T18:00Z","Control":4.8,"Mean":6.2,"Oper":4.0},
{"t":"2025-11-01T00:00Z","Control":4.8,"Mean":6.0,"Oper":8.4},
{"t":"2025-11-01T06:00Z","Control":4.2,"Mean":5.8,"Oper":12.5},
{"t":"2025-11-01T12:00Z","Control":2.7,"Mean":5.7,"Oper":12.2},
{"t":"2025-11-01T18:00Z","Control":1.8,"Mean":5.4,"Oper":9.7},
{"t":"2025-11-02T00:00Z","Control":0.2,"Mean":4.8,"Oper":13.1},
{"t":"2025-11-02T06:00Z","Control":0.1,"Mean":4.8,"Oper":11.2},
{"t":"2025-11-02T12:00Z","Control":-0.8,"Mean":5.6,"Oper":11.0},
{"t":"2025-11-02T18:00Z","Control":-0.9,"Mean":5.7,"Oper":12.1},
{"t":"2025-11-03T00:00Z","Control":-1.6,"Mean":5.2,"Oper":10.7},
{"t":"2025-11-03T06:00Z","Control":-1.8,"Mean":6.1,"Oper":10.3},
{"t":"2025-11-03T12:00Z","Control":-3.3,"Mean":7.0,"Oper":10.0},
{"t":"2025-11-03T18:00Z","Control":-1.8,"Mean":6.7,"Oper":10.1},
{"t":"2025-11-04T00:00Z","Control":-2.0,"Mean":6.5,"Oper":9.0},
{"t":"2025-11-04T06:00Z","Control":-2.1,"Mean":5.8,"Oper":7.8},
{"t":"2025-11-04T12:00Z","Control":-1.6,"Mean":6.1,"Oper":7.6},
{"t":"2025-11-04T18:00Z","Control":-1.2,"Mean":6.0,"Oper":7.1},
{"t":"2025-11-05T00:00Z","Control":0.6,"Mean":6.4,"Oper":8.4},
{"t":"2025-11-05T06:00Z","Control":2.6,"Mean":6.1,"Oper":8.4},
{"t":"2025-11-05T12:00Z","Control":5.4,"Mean":6.3,"Oper":7.8},
{"t":"2025-11-05T18:00Z","Control":6.0,"Mean":6.6,"Oper":5.4},
{"t":"2025-11-06T00:00Z","Control":9.5,"Mean":6.5,"Oper":3.1},
{"t":"2025-11-06T06:00Z","Control":10.0,"Mean":6.3,"Oper":3.6}
],
"pc":[
{"t":"2025-10-21T12:00Z","Control":1.2,"Mean":1.1,"Oper":0.8},
{"t":"2025-10-21T18:00Z","Control":0.3,"Mean":0.3,"Oper":0.15},
{"t":"2025-10-22T00:00Z","Control":0.15,"Mean":0.45,"Oper":0.2},
{"t":"2025-10-22T06:00Z","Control":0.1,"Mean":0.15,"Oper":0.1},
{"t":"2025-10-22T12:00Z","Control":0.05,"Mean":0.1,"Oper":0.05},
{"t":"2025-10-22T18:00Z","Control":0.05,"Mean":0.1,"Oper":0.1},
{"t":"2025-10-23T00:00Z","Control":0.15,"Mean":0.5,"Oper":0.15},
{"t":"2025-10-23T06:00Z","Control":6.9,"Mean":6.0,"Oper":4.5},
{"t":"2025-10-23T12:00Z","Control":0.15,"Mean":2.4,"Oper":0.9},
{"t":"2025-10-23T18:00Z","Control":3.9,"Mean":3.9,"Oper":4.7},
{"t":"2025-10-24T00:00Z","Control":4.2,"Mean":4.1,"Oper":6.0},
{"t":"2025-10-24T06:00Z","Control":0.45,"Mean":1.4,"Oper":0.1},
{"t":"2025-10-24T12:00Z","Control":0.15,"Mean":0.15,"Oper":0.9},
{"t":"2025-10-24T18:00Z","Control":0.1,"Mean":0.45,"Oper":1.2},
{"t":"2025-10-25T00:00Z","Control":0.1,"Mean":0.45,"Oper":1.1},
{"t":"2025-10-25T06:00Z","Control":0.2,"Mean":0.9,"Oper":0.7},
{"t":"2025-10-25T12:00Z","Control":0.3,"Mean":1.2,"Oper":0.3},
{"t":"2025-10-25T18:00Z","Control":0.2,"Mean":1.2,"Oper":0.15},
{"t":"2025-10-26T00:00Z","Control":0.1,"Mean":0.9,"Oper":0.15},
{"t":"2025-10-26T06:00Z","Control":0.1,"Mean":0.7,"Oper":0.15},
{"t":"2025-10-26T12:00Z","Control":0.1,"Mean":1.1,"Oper":0.9},
{"t":"2025-10-26T18:00Z","Control":1.2,"Mean":2.0,"Oper":3.3},
{"t":"2025-10-27T00:00Z","Control":5.8,"Mean":0.8,"Oper":1.4},
{"t":"2025-10-27T06:00Z","Control":0.7,"Mean":0.5,"Oper":0.45},
{"t":"2025-10-27T12:00Z","Control":0.1,"Mean":0.8,"Oper":0.15},
{"t":"2025-10-27T18:00Z","Control":0.05,"Mean":0.7,"Oper":0.1},
{"t":"2025-10-28T00:00Z","Control":0.05,"Mean":0.3,"Oper":0.1},
{"t":"2025-10-28T06:00Z","Control":0.1,"Mean":0.3,"Oper":0.3},
{"t":"2025-10-28T12:00Z","Control":0.1,"Mean":0.45,"Oper":0.3},
{"t":"2025-10-28T18:00Z","Control":0.05,"Mean":0.45,"Oper":0.4},
{"t":"2025-10-29T00:00Z","Control":0.3,"Mean":0.5,"Oper":6.1},
{"t":"2025-10-29T06:00Z","Control":3.2,"Mean":0.45,"Oper":1.7},
{"t":"2025-10-29T12:00Z","Control":0.2,"Mean":0.3,"Oper":0.15},
{"t":"2025-10-29T18:00Z","Control":0.1,"Mean":0.5,"Oper":0.7},
{"t":"2025-10-30T00:00Z","Control":0.05,"Mean":0.45,"Oper":0.15},
{"t":"2025-10-30T06:00Z","Control":0.05,"Mean":0.3,"Oper":0.1},
{"t":"2025-10-30T12:00Z","Control":0.1,"Mean":1.1,"Oper":0.15},
{"t":"2025-10-30T18:00Z","Control":0.05,"Mean":0.7,"Oper":0.1},
{"t":"2025-10-31T00:00Z","Control":0.05,"Mean":0.4,"Oper":0.1},
{"t":"2025-10-31T06:00Z","Control":0.1,"Mean":0.7,"Oper":0.1},
{"t":"2025-10-31T12:00Z","Control":0.3,"Mean":0.45,"Oper":0.2},
{"t":"2025-10-31T18:00Z","Control":1.2,"Mean":0.3,"Oper":0.3},
{"t":"2025-11-01T00:00Z","Control":0.3,"Mean":0.3,"Oper":0.9},
{"t":"2025-11-01T06:00Z","Control":0.05,"Mean":0.45,"Oper":10.5},
{"t":"2025-11-01T12:00Z","Control":0,"Mean":0.45,"Oper":2.0},
{"t":"2025-11-01T18:00Z","Control":0.05,"Mean":0.4,"Oper":0.3},
{"t":"2025-11-02T00:00Z","Control":0,"Mean":0.45,"Oper":0.45},
{"t":"2025-11-02T06:00Z","Control":0,"Mean":0.5,"Oper":0.2},
{"t":"2025-11-02T12:00Z","Control":0.05,"Mean":0.7,"Oper":0.1},
{"t":"2025-11-02T18:00Z","Control":0.1,"Mean":0.8,"Oper":0.1},
{"t":"2025-11-03T00:00Z","Control":0,"Mean":0.9,"Oper":0.2},
{"t":"2025-11-03T06:00Z","Control":0,"Mean":1.2,"Oper":0.3},
{"t":"2025-11-03T12:00Z","Control":0.05,"Mean":1.1,"Oper":0.4},
{"t":"2025-11-03T18:00Z","Control":0.1,"Mean":0.8,"Oper":1.3},
{"t":"2025-11-04T00:00Z","Control":0.05,"Mean":0.8,"Oper":0.15},
{"t":"2025-11-04T06:00Z","Control":0,"Mean":0.45,"Oper":0.1},
{"t":"2025-11-04T12:00Z","Control":0,"Mean":0.5,"Oper":0.2},
{"t":"2025-11-04T18:00Z","Control":0.1,"Mean":0.8,"Oper":4.8},
{"t":"2025-11-05T00:00Z","Control":0.05,"Mean":0.8,"Oper":0.9},
{"t":"2025-11-05T06:00Z","Control":0.1,"Mean":0.7,"Oper":3.9},
{"t":"2025-11-05T12:00Z","Control":0.2,"Mean":0.7,"Oper":2.7},
{"t":"2025-11-05T18:00Z","Control":0.3,"Mean":1.7,"Oper":0.7},
{"t":"2025-11-06T00:00Z","Control":1.6,"Mean":0.9,"Oper":0.8},
{"t":"2025-11-06T06:00Z","Control":0.5,"Mean":0.8,"Oper":1.2}
]
},
"layer":[
{
 "data":{"values":[{}]},
 "mark":{"type":"rule","color":"white","strokeWidth":1.2},
 "encoding":{"y":{"datum":0,"type":"quantitative","scale":{"domain":[-20,25],"nice":false,"zero":false},"axis":null}}
},
{
 "data":{"name":"dm"},
 "transform":[{"fold":["P1","P2","P3","P4","P5","P6","P7","P8","P9","P10","P11","P12","P13","P14","P15","P16","P17","P18","P19","P20","P21","P22","P23","P24","P25","P26","P27","P28","P29","P30"],"as":["m","v"]}],
 "mark":{"type":"line","strokeWidth":1,"clip":true},
 "encoding":{
  "x":{"field":"t","type":"temporal","scale":{"type":"utc","domain":[{"year":2025,"month":10,"date":21,"hours":0,"utc":true},{"year":2025,"month":11,"date":6,"hours":6,"utc":true}]},
   "axis":{"orient":"bottom","title":"Date (UTC)","tickCount":{"interval":"day","step":1},"labelExpr":"(datum.value - 1761004800000) % 172800000 == 0 ? utcFormat(datum.value, '%d%b %Hz') : ''","labelOverlap":false,"labelFlush":false,"labelBound":false,"labelPadding":7,"titlePadding":5,"grid":true}},
  "y":{"field":"v","type":"quantitative","scale":{"domain":[-20,25],"nice":false,"zero":false},
   "axis":{"orient":"left","title":"2m dauwpunt (°C)","values":[-20,-15,-10,-5,0,5,10,15,20,25],"grid":true,"labelPadding":9,"titlePadding":-6}},
  "color":{"field":"m","type":"nominal",
   "scale":{"domain":["P1","P2","P3","P4","P5","P6","P7","P8","P9","P10","P11","P12","P13","P14","P15","P16","P17","P18","P19","P20","P21","P22","P23","P24","P25","P26","P27","P28","P29","P30","Control","Mean","Oper"],"range":["#1e1ed2","#1e50c8","#1e78c8","#1ea0c8","#1eb4b4","#14a58c","#14a064","#14aa46","#14b428","#1ebe14","#b4b414","#beaa14","#be9614","#be8214","#be6e14","#be6414","#be5514","#b44614","#a03214","#8c1414","#1e1ed2","#1e50c8","#1e78c8","#1ea0c8","#1eb4b4","#14a58c","#14a064","#14aa46","#14b428","#1ebe14","#0000ff","#ffffff","#00dd00"]},
   "legend":{"title":null,"orient":"none","legendX":-163,"legendY":3,"columns":2,"direction":"horizontal","symbolLimit":40,"symbolType":"stroke","symbolSize":64,"symbolStrokeWidth":2,"labelColor":"white","labelFontSize":11,"labelFont":"DejaVu Sans","rowPadding":3,"columnPadding":2,"labelOffset":1,"padding":0,"labelLimit":0,"labelExpr":"datum.label == 'Mean' ? 'Ens. mean' : datum.label"}}
 }
},
{
 "data":{"name":"pm"},
 "transform":[{"fold":["P1","P2","P3","P4","P5","P6","P7","P8","P9","P10","P11","P12","P13","P14","P15","P16","P17","P18","P19","P20","P21","P22","P23","P24","P25","P26","P27","P28","P29","P30"],"as":["m","v"]}],
 "mark":{"type":"line","strokeWidth":1,"clip":true},
 "encoding":{
  "x":{"field":"t","type":"temporal","scale":{"type":"utc","domain":[{"year":2025,"month":10,"date":21,"hours":0,"utc":true},{"year":2025,"month":11,"date":6,"hours":6,"utc":true}]},
   "axis":{"orient":"bottom","title":"GFS Ensemble, 51N, 4.5E","labels":false,"grid":false,"ticks":false,"domain":false,"titleX":-43,"titleY":39,"titleAlign":"left","titleAnchor":"start","titleBaseline":"middle","titleFontSize":16}},
  "y":{"field":"v","type":"quantitative","scale":{"domain":[0,40],"nice":false,"zero":false},
   "axis":{"orient":"right","title":"Neerslag (mm)","values":[0,1,2,3,4,5,6,7,8,9,10,11,12,13,14,15,16,17,18,19,20,21,22,23,24,25,26,27,28,29,30,31,32,33,34,35,36,37,38,39,40],"labelExpr":"datum.value % 10 == 0 ? datum.label : ''","ticks":true,"tickSize":-5,"tickColor":"white","tickWidth":1,"grid":false,"labelPadding":13,"titleAngle":270,"titlePadding":16,"labelOverlap":false}},
  "color":{"field":"m","type":"nominal"}
 }
},
{
 "data":{"name":"pc"},
 "transform":[{"fold":["Control","Oper","Mean"],"as":["m","v"]}],
 "mark":{"type":"line","strokeWidth":3,"clip":true},
 "encoding":{
  "x":{"field":"t","type":"temporal","scale":{"type":"utc","domain":[{"year":2025,"month":10,"date":21,"hours":0,"utc":true},{"year":2025,"month":11,"date":6,"hours":6,"utc":true}]},
   "axis":{"orient":"bottom","title":"Wetterzentrale.de","labels":false,"grid":false,"ticks":false,"domain":false,"titleX":630,"titleY":39,"titleAlign":"right","titleAnchor":"end","titleBaseline":"middle","titleFontSize":16}},
  "y":{"field":"v","type":"quantitative","scale":{"domain":[0,40],"nice":false,"zero":false},"axis":null},
  "color":{"field":"m","type":"nominal"}
 }
},
{
 "data":{"name":"dc"},
 "transform":[{"fold":["Control","Oper","Mean"],"as":["m","v"]}],
 "mark":{"type":"line","strokeWidth":3,"clip":true},
 "encoding":{
  "x":{"field":"t","type":"temporal","scale":{"type":"utc","domain":[{"year":2025,"month":10,"date":21,"hours":0,"utc":true},{"year":2025,"month":11,"date":6,"hours":6,"utc":true}]},"axis":null},
  "y":{"field":"v","type":"quantitative","scale":{"domain":[-20,25],"nice":false,"zero":false},"axis":null},
  "color":{"field":"m","type":"nominal"}
 }
}
],
"resolve":{"scale":{"y":"independent"},"axis":{"x":"independent","y":"independent"}}
}
